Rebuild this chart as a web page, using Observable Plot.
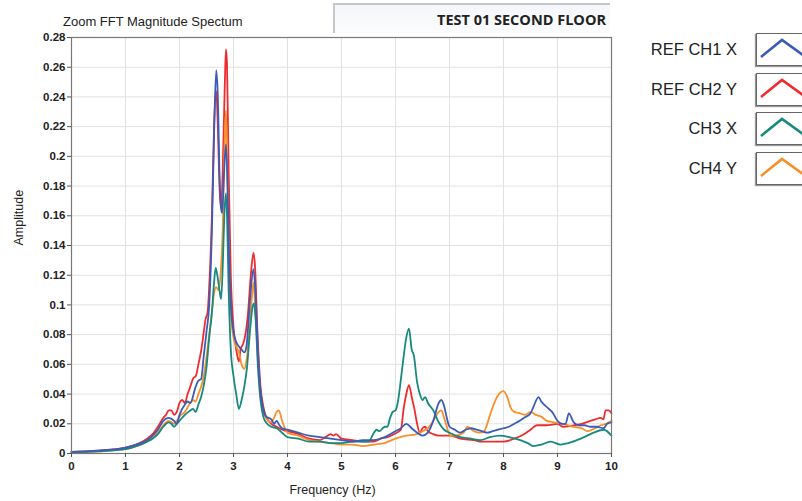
<!DOCTYPE html>
<html>
<head>
<meta charset="utf-8">
<script src="https://cdn.jsdelivr.net/npm/d3@7"></script>
<script src="https://cdn.jsdelivr.net/npm/@observablehq/plot@0.6"></script>
<style>
  html, body { margin: 0; padding: 0; background: #fff; }
  #wrap { position: relative; width: 802px; height: 501px; overflow: hidden; font-family: "Liberation Sans", Arial, sans-serif; }
  #chart { position: absolute; left: 0; top: 0; }
  #title { position: absolute; left: 63px; top: 14px; font-size: 13px; color: #222; }
  #header { position: absolute; left: 333px; top: 3px; width: 275px; height: 28px;
    border-top: 2px solid #c4c8cc; border-left: 2px solid #c4c8cc;
    background: linear-gradient(#f4f6f9, #fbfcfd); }
  #header span { position: absolute; right: 4px; top: 5px; font-family: "Open Sans", sans-serif; font-weight: bold; font-size: 14.5px; color: #222; }
  .leg { position: absolute; left: 600px; width: 137px; text-align: right; font-size: 16.5px; color: #222; }
  .box { position: absolute; left: 756px; width: 60px; height: 31px; border: 1px solid #666; background: #fff;
    box-shadow: -1px 1px 1px #999; }
  .box svg { position: absolute; left: 0; top: 0; }
  #chart svg text { fill: #222; }
</style>
</head>
<body>
<div id="wrap">
  <div id="chart"></div>
  <div id="title">Zoom FFT Magnitude Spectum</div>
  <div id="header"><span>TEST 01 SECOND FLOOR</span></div>
  <div id="legend"></div>
</div>
<script>
// ---- data (frequency Hz, amplitude) ----
const seriesNames = ["REF CH1 X", "REF CH2 Y", "CH3 X", "CH4 Y"];
const seriesColors = ["#3a5cb8", "#ee2b2d", "#17897e", "#f7902a"];
const xTicks = [0, 1, 2, 3, 4, 5, 6, 7, 8, 9, 10];
const yTicks = [0, 0.02, 0.04, 0.06, 0.08, 0.1, 0.12, 0.14, 0.16, 0.18, 0.2, 0.22, 0.24, 0.26, 0.28];

const ch1 = [[0,0.001],[0.5,0.002],[1.0,0.004],[1.2,0.006],[1.4,0.009],[1.5,0.012],[1.6,0.016],[1.7,0.022],[1.8,0.024],[1.9,0.022],[1.95,0.020],[2.0,0.026],[2.1,0.033],[2.15,0.035],[2.2,0.034],[2.3,0.045],[2.35,0.049],[2.4,0.050],[2.45,0.066],[2.5,0.082],[2.55,0.100],[2.6,0.150],[2.64,0.215],[2.68,0.258],[2.71,0.240],[2.74,0.190],[2.77,0.165],[2.79,0.162],[2.82,0.185],[2.86,0.208],[2.89,0.180],[2.92,0.130],[2.96,0.095],[3.0,0.082],[3.05,0.075],[3.1,0.072],[3.15,0.070],[3.2,0.068],[3.24,0.072],[3.28,0.090],[3.32,0.110],[3.37,0.124],[3.41,0.105],[3.45,0.070],[3.5,0.042],[3.55,0.030],[3.6,0.025],[3.7,0.023],[3.75,0.020],[3.8,0.022],[3.85,0.019],[3.9,0.017],[4.0,0.016],[4.1,0.015],[4.2,0.014],[4.4,0.012],[4.6,0.011],[4.8,0.010],[5.0,0.009],[5.2,0.008],[5.4,0.009],[5.6,0.009],[5.8,0.011],[6.0,0.015],[6.1,0.017],[6.2,0.020],[6.3,0.017],[6.4,0.014],[6.5,0.012],[6.6,0.014],[6.7,0.022],[6.8,0.034],[6.85,0.036],[6.9,0.032],[6.95,0.024],[7.0,0.018],[7.1,0.016],[7.2,0.014],[7.3,0.016],[7.4,0.017],[7.5,0.016],[7.6,0.015],[7.7,0.014],[7.8,0.015],[7.9,0.016],[8.0,0.017],[8.1,0.018],[8.2,0.020],[8.3,0.022],[8.38,0.024],[8.5,0.027],[8.55,0.031],[8.65,0.038],[8.7,0.035],[8.81,0.031],[8.9,0.028],[9.0,0.022],[9.08,0.020],[9.15,0.020],[9.21,0.027],[9.3,0.021],[9.4,0.019],[9.5,0.019],[9.6,0.018],[9.73,0.018],[9.85,0.017],[9.92,0.020],[10,0.021]];

const ch2 = [[0,0.001],[0.5,0.002],[1.0,0.004],[1.2,0.006],[1.4,0.010],[1.5,0.013],[1.6,0.018],[1.7,0.024],[1.75,0.026],[1.8,0.029],[1.85,0.029],[1.9,0.026],[1.95,0.028],[2.0,0.034],[2.05,0.036],[2.1,0.034],[2.15,0.040],[2.2,0.045],[2.26,0.051],[2.3,0.052],[2.35,0.060],[2.4,0.069],[2.45,0.082],[2.48,0.090],[2.52,0.095],[2.55,0.112],[2.6,0.160],[2.64,0.220],[2.68,0.244],[2.71,0.220],[2.74,0.180],[2.77,0.165],[2.8,0.190],[2.84,0.250],[2.86,0.272],[2.88,0.262],[2.91,0.190],[2.95,0.120],[3.0,0.085],[3.05,0.070],[3.1,0.062],[3.13,0.070],[3.18,0.074],[3.22,0.080],[3.27,0.095],[3.32,0.120],[3.37,0.135],[3.4,0.125],[3.44,0.085],[3.5,0.045],[3.55,0.032],[3.6,0.025],[3.7,0.020],[3.8,0.018],[3.9,0.016],[4.0,0.015],[4.2,0.013],[4.4,0.010],[4.6,0.009],[4.7,0.011],[4.8,0.013],[4.85,0.012],[4.9,0.013],[5.0,0.010],[5.2,0.009],[5.4,0.008],[5.6,0.008],[5.72,0.010],[5.85,0.011],[5.97,0.013],[6.1,0.016],[6.15,0.030],[6.2,0.040],[6.25,0.046],[6.3,0.038],[6.35,0.030],[6.4,0.020],[6.45,0.014],[6.5,0.017],[6.55,0.018],[6.6,0.015],[6.7,0.013],[6.8,0.012],[6.9,0.012],[7.02,0.012],[7.2,0.010],[7.45,0.009],[7.6,0.008],[7.8,0.008],[8.0,0.008],[8.2,0.010],[8.38,0.013],[8.5,0.016],[8.62,0.019],[8.8,0.019],[9.0,0.020],[9.1,0.018],[9.3,0.019],[9.45,0.020],[9.61,0.022],[9.7,0.023],[9.8,0.024],[9.85,0.023],[9.89,0.029],[9.95,0.029],[10,0.027]];

const ch3 = [[0,0.001],[0.5,0.0015],[1.0,0.003],[1.2,0.005],[1.4,0.008],[1.5,0.010],[1.6,0.013],[1.7,0.018],[1.8,0.021],[1.85,0.020],[1.9,0.018],[1.95,0.020],[2.0,0.022],[2.1,0.026],[2.2,0.029],[2.25,0.030],[2.3,0.028],[2.35,0.033],[2.4,0.038],[2.45,0.046],[2.5,0.058],[2.55,0.078],[2.6,0.095],[2.64,0.115],[2.67,0.125],[2.7,0.120],[2.74,0.110],[2.77,0.104],[2.8,0.125],[2.83,0.160],[2.86,0.175],[2.88,0.160],[2.91,0.110],[2.95,0.070],[3.0,0.052],[3.05,0.040],[3.1,0.030],[3.15,0.036],[3.2,0.045],[3.25,0.058],[3.3,0.080],[3.35,0.098],[3.38,0.101],[3.41,0.090],[3.45,0.060],[3.5,0.036],[3.55,0.025],[3.6,0.021],[3.7,0.018],[3.8,0.017],[3.9,0.014],[4.0,0.011],[4.2,0.010],[4.4,0.008],[4.6,0.008],[4.8,0.007],[5.0,0.007],[5.2,0.008],[5.4,0.008],[5.5,0.008],[5.6,0.014],[5.65,0.016],[5.7,0.015],[5.8,0.018],[5.85,0.018],[5.9,0.024],[5.95,0.028],[6.0,0.029],[6.05,0.036],[6.1,0.050],[6.15,0.065],[6.2,0.078],[6.25,0.084],[6.3,0.070],[6.34,0.066],[6.4,0.048],[6.45,0.040],[6.5,0.036],[6.55,0.038],[6.6,0.034],[6.7,0.029],[6.8,0.021],[6.9,0.016],[7.0,0.014],[7.2,0.011],[7.4,0.010],[7.57,0.009],[7.75,0.011],[7.94,0.012],[8.1,0.011],[8.31,0.009],[8.45,0.007],[8.56,0.005],[8.7,0.006],[8.87,0.008],[9.06,0.006],[9.2,0.007],[9.43,0.010],[9.55,0.012],[9.67,0.014],[9.86,0.016],[10,0.012]];

const ch4 = [[0,0.001],[0.5,0.0015],[1.0,0.003],[1.2,0.005],[1.4,0.008],[1.5,0.011],[1.6,0.014],[1.7,0.019],[1.8,0.022],[1.9,0.020],[1.95,0.022],[2.0,0.025],[2.1,0.028],[2.2,0.034],[2.25,0.036],[2.3,0.035],[2.35,0.040],[2.4,0.045],[2.45,0.052],[2.5,0.065],[2.55,0.080],[2.6,0.095],[2.64,0.108],[2.68,0.112],[2.72,0.110],[2.76,0.120],[2.8,0.150],[2.83,0.200],[2.86,0.231],[2.88,0.200],[2.91,0.140],[2.95,0.095],[3.0,0.078],[3.05,0.072],[3.1,0.068],[3.15,0.060],[3.2,0.057],[3.25,0.065],[3.3,0.085],[3.34,0.105],[3.37,0.115],[3.4,0.100],[3.45,0.065],[3.5,0.038],[3.55,0.028],[3.6,0.024],[3.7,0.021],[3.75,0.024],[3.8,0.028],[3.84,0.029],[3.9,0.022],[4.0,0.014],[4.2,0.012],[4.4,0.009],[4.6,0.008],[4.8,0.007],[5.0,0.006],[5.2,0.006],[5.4,0.005],[5.6,0.006],[5.8,0.007],[6.0,0.010],[6.2,0.012],[6.4,0.013],[6.5,0.015],[6.6,0.017],[6.7,0.022],[6.8,0.028],[6.85,0.029],[6.9,0.024],[7.02,0.012],[7.1,0.012],[7.26,0.014],[7.33,0.018],[7.45,0.015],[7.57,0.014],[7.64,0.015],[7.7,0.020],[7.76,0.027],[7.88,0.038],[8.0,0.042],[8.07,0.038],[8.13,0.031],[8.2,0.028],[8.31,0.027],[8.4,0.026],[8.5,0.028],[8.6,0.026],[8.69,0.025],[8.8,0.022],[8.93,0.021],[9.1,0.020],[9.3,0.018],[9.45,0.017],[9.55,0.015],[9.7,0.017],[9.8,0.019],[9.9,0.020],[10,0.022]];

// ---- build table ----
const allSeries = [ch1, ch2, ch3, ch4];
const rows = [];
allSeries.forEach((s, i) => s.forEach(([f, a]) => rows.push({series: seriesNames[i], f, a})));
const drawOrder = ["REF CH2 Y", "CH4 Y", "CH3 X", "REF CH1 X"];

const fmt = d3.format("~g");
const chart = Plot.plot({
  width: 640,
  height: 501,
  marginLeft: 71,
  marginRight: 29,
  marginTop: 37,
  marginBottom: 48,
  style: {fontFamily: "'Liberation Sans', Arial, sans-serif", fontSize: "11.5px", background: "transparent", color: "#222"},
  x: {domain: [0, 10]},
  y: {domain: [0, 0.28]},
  color: {domain: seriesNames, range: seriesColors},
  marks: [
    Plot.gridX(xTicks, {stroke: "#e2e2e2", strokeOpacity: 1}),
    Plot.gridY(yTicks, {stroke: "#e2e2e2", strokeOpacity: 1}),
    ...drawOrder.map(name => Plot.line(rows.filter(r => r.series === name), {
      x: "f", y: "a", stroke: "series", strokeWidth: 1.8, curve: "monotone-x"
    })),
    Plot.frame({stroke: "#777", strokeWidth: 1.2}),
    Plot.axisX({ticks: xTicks, tickFormat: fmt, tickSize: 4, tickPadding: 4, fontWeight: "bold", label: null, stroke: "#555"}),
    Plot.axisY({ticks: yTicks, tickFormat: fmt, tickSize: 4, tickPadding: 2, fontWeight: "bold", label: null, stroke: "#555"}),
    Plot.text(["Frequency (Hz)"], {frameAnchor: "bottom", dy: 40, dx: -9, fontSize: 12.5, fill: "#222"}),
    Plot.text(["Amplitude"], {frameAnchor: "left", dx: -53, rotate: -90, fontSize: 12.5, fill: "#222"})
  ]
});
document.getElementById("chart").appendChild(chart);

// ---- legend ----
const legend = document.getElementById("legend");
seriesNames.forEach((name, i) => {
  const top = 33 + i * 39.7;
  const lab = document.createElement("div");
  lab.className = "leg";
  lab.style.top = (top + 7) + "px";
  lab.textContent = name;
  legend.appendChild(lab);
  const box = document.createElement("div");
  box.className = "box";
  box.style.top = top + "px";
  box.innerHTML = `<svg width="60" height="31"><polyline points="4,23 25,6 46,21" fill="none" stroke="${seriesColors[i]}" stroke-width="2.6"/></svg>`;
  legend.appendChild(box);
});
</script>
</body>
</html>
